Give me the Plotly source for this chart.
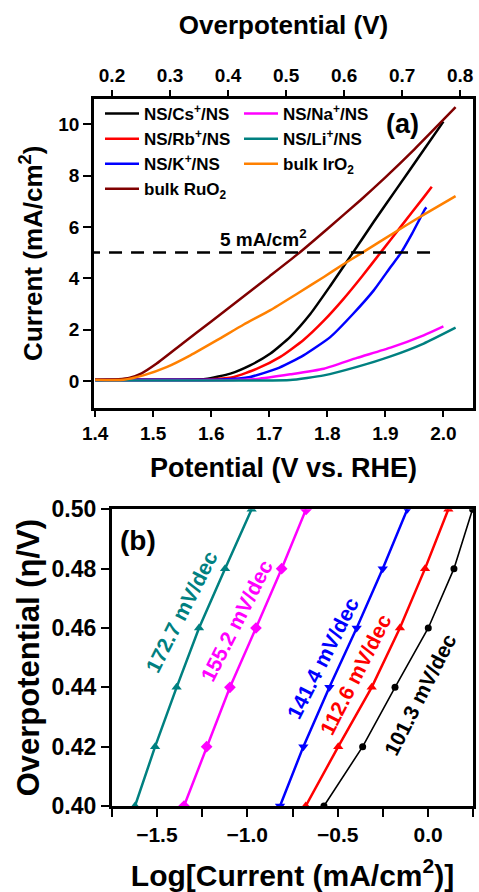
import plotly.graph_objects as go

# ---------------- Panel (a): LSV curves ----------------
cs_x = [1.40, 1.50, 1.59, 1.633, 1.667, 1.702, 1.736, 1.771, 1.805, 1.843, 1.880, 1.92, 1.96, 2.0]
cs_y = [0.05, 0.05, 0.08, 0.29, 0.61, 1.07, 1.72, 2.62, 3.70, 4.96, 6.20, 7.50, 8.80, 10.1]

rb_x = [1.40, 1.50, 1.60, 1.639, 1.679, 1.719, 1.759, 1.794, 1.828, 1.860, 1.891, 1.929, 1.966, 1.980]
rb_y = [0.05, 0.05, 0.07, 0.16, 0.48, 0.94, 1.60, 2.35, 3.20, 4.08, 4.98, 6.08, 7.15, 7.56]

k_x = [1.40, 1.50, 1.62, 1.667, 1.713, 1.759, 1.805, 1.845, 1.880, 1.909, 1.926, 1.946, 1.969, 1.971]
k_y = [0.05, 0.05, 0.06, 0.16, 0.48, 1.00, 1.71, 2.63, 3.53, 4.44, 4.96, 5.74, 6.72, 6.76]

ru_x = [1.40, 1.44, 1.46, 1.48, 1.506, 1.55, 1.60, 1.65, 1.70, 1.75, 1.80, 1.857, 1.90, 1.95, 2.021]
ru_y = [0.05, 0.07, 0.13, 0.30, 0.68, 1.45, 2.32, 3.19, 4.07, 4.96, 5.92, 7.04, 7.93, 9.02, 10.66]

na_x = [1.40, 1.55, 1.62, 1.679, 1.736, 1.794, 1.851, 1.909, 1.966, 2.000]
na_y = [0.02, 0.02, 0.03, 0.08, 0.26, 0.48, 0.90, 1.30, 1.78, 2.13]

li_x = [1.40, 1.60, 1.68, 1.736, 1.794, 1.851, 1.909, 1.966, 2.021]
li_y = [0.02, 0.02, 0.02, 0.04, 0.22, 0.55, 0.96, 1.46, 2.08]

ir_x = [1.40, 1.449, 1.483, 1.524, 1.564, 1.610, 1.656, 1.702, 1.748, 1.794, 1.825, 1.859, 1.929, 1.970, 2.021]
ir_y = [0.05, 0.05, 0.22, 0.55, 1.00, 1.59, 2.20, 2.76, 3.40, 4.05, 4.51, 4.98, 5.97, 6.53, 7.20]

ref_x = [1.386, 1.992]
ref_y = [5, 5]

# ---------------- Panel (b): Tafel plots ----------------
eta = [0.40, 0.42, 0.44, 0.46, 0.48, 0.50]
li_log = [-1.621, -1.510, -1.391, -1.267, -1.123, -0.976]
na_log = [-1.350, -1.225, -1.096, -0.952, -0.810, -0.675]
k_log = [-0.819, -0.690, -0.546, -0.395, -0.251, -0.115]
rb_log = [-0.677, -0.497, -0.312, -0.156, -0.017, 0.112]
cs_log = [-0.576, -0.362, -0.183, 0.001, 0.143, 0.246]

tafel_labels = ["172.7 mV/dec", "155.2 mV/dec", "141.4 mV/dec", "112.6 mV/dec", "101.3 mV/dec"]
tafel_lab_x = [-1.363, -1.059, -0.585, -0.400, -0.045]
tafel_lab_y = [0.4655, 0.4625, 0.4498, 0.4442, 0.4377]

BLACK = "#000000"; RED = "#FF0000"; BLUE = "#0000FF"; MAG = "#FF00FF"
TEAL = "#008080"; ORANGE = "#FF8000"; DRED = "#800000"

fig = go.Figure()

def lsv(x, y, name, color, legend):
    fig.add_trace(go.Scatter(x=x, y=y, mode="lines", name=name, legend=legend,
                             line=dict(color=color, width=2.5, shape="spline", smoothing=0.5),
                             xaxis="x", yaxis="y"))

lsv(cs_x, cs_y, "NS/Cs<sup>+</sup>/NS", BLACK, "legend")
lsv(rb_x, rb_y, "NS/Rb<sup>+</sup>/NS", RED, "legend")
lsv(k_x, k_y, "NS/K<sup>+</sup>/NS", BLUE, "legend")
lsv(ru_x, ru_y, "bulk RuO<sub>2</sub>", DRED, "legend")
lsv(na_x, na_y, "NS/Na<sup>+</sup>/NS", MAG, "legend2")
lsv(li_x, li_y, "NS/Li<sup>+</sup>/NS", TEAL, "legend2")
lsv(ir_x, ir_y, "bulk IrO<sub>2</sub>", ORANGE, "legend2")

fig.add_trace(go.Scatter(x=ref_x, y=ref_y, mode="lines", showlegend=False, cliponaxis=False,
                         line=dict(color="black", width=2.5, dash="13px,9px"), xaxis="x", yaxis="y"))
# anchor trace for the top (overpotential) axis
fig.add_trace(go.Scatter(x=[], y=[], mode="lines", showlegend=False, xaxis="x3", yaxis="y"))

def tafel(x, color, symbol, size, width):
    fig.add_trace(go.Scatter(x=x, y=eta, mode="lines+markers", showlegend=False,
                             line=dict(color=color, width=width),
                             marker=dict(color=color, symbol=symbol, size=size),
                             xaxis="x2", yaxis="y2"))

tafel(li_log, TEAL, "triangle-up", 9, 2.5)
tafel(na_log, MAG, "diamond", 9, 2.5)
tafel(k_log, BLUE, "triangle-down", 9, 2.5)
tafel(rb_log, RED, "triangle-up", 9, 2.5)
tafel(cs_log, BLACK, "circle", 7, 1.6)

W, H = 479, 892
FONT = "Liberation Sans, Arial, sans-serif"

ax_common = dict(showline=True, linewidth=2.5, linecolor="black", ticks="outside",
                 tickwidth=2, tickcolor="black", showgrid=False, zeroline=False,
                 automargin=False)

E0 = 1.229
xa_range = [1.398, 2.051]

fig.update_layout(
    width=W, height=H, margin=dict(l=0, r=0, t=0, b=0, autoexpand=False),
    paper_bgcolor="white", plot_bgcolor="white",
    font=dict(family=FONT, color="black", weight="bold"),
    xaxis=dict(**ax_common, domain=[94/W, 473/W], anchor="y", range=xa_range,
               dtick=0.1, tick0=1.4, tickformat=".1f", ticklen=6, mirror=False,
               tickfont=dict(size=19),
               title=dict(text="Potential (V vs. RHE)", font=dict(size=27), standoff=16)),
    yaxis=dict(**ax_common, domain=[1-408/H, 1-98.5/H], anchor="x", range=[-1.05, 11.0],
               dtick=2, ticklen=8, mirror=True, tickfont=dict(size=19),
               title=dict(text="Current (mA/cm<sup>2</sup>)", font=dict(size=26), standoff=9)),
    xaxis3=dict(**ax_common, overlaying="x", side="top", anchor="y",
                range=[xa_range[0]-E0, xa_range[1]-E0], dtick=0.1, tick0=0.2, tickformat=".1f",
                ticklen=6, tickfont=dict(size=19),
                title=dict(text="Overpotential (V)", font=dict(size=26), standoff=24)),
    xaxis2=dict(**ax_common, domain=[111.7/W, 473.3/W], anchor="y2", range=[-1.75, 0.25],
                dtick=0.5, tick0=0, tickformat=".1f", ticklen=8, mirror=True,
                minor=dict(dtick=0.25, ticks="outside", ticklen=8, tickwidth=2, tickcolor="black"),
                tickfont=dict(size=21),
                title=dict(text="Log[Current (mA/cm<sup>2</sup>)]", font=dict(size=30), standoff=25)),
    yaxis2=dict(**ax_common, domain=[1-806/H, 1-509.3/H], anchor="x2", range=[0.40, 0.50],
                dtick=0.02, tickformat=".2f", ticklen=8, mirror=True, tickfont=dict(size=23),
                title=dict(text="Overpotential (η/V)", font=dict(size=31), standoff=3)),
    legend=dict(x=100/W, y=1-96/H, xanchor="left", yanchor="top", bgcolor="rgba(0,0,0,0)",
                font=dict(size=17), tracegroupgap=0, itemwidth=34),
    legend2=dict(x=239/W, y=1-96/H, xanchor="left", yanchor="top", bgcolor="rgba(0,0,0,0)",
                 font=dict(size=17), tracegroupgap=0, itemwidth=34),
)

annotations = [
    dict(x=1.690, y=5.56, xref="x", yref="y", text="5 mA/cm<sup>2</sup>", showarrow=False,
         font=dict(size=19, color="black")),
    dict(x=402/W, y=1-124/H, xref="paper", yref="paper", text="(a)", showarrow=False,
         xanchor="center", yanchor="middle", font=dict(size=27, color="black")),
    dict(x=138/W, y=1-540/H, xref="paper", yref="paper", text="(b)", showarrow=False,
         xanchor="center", yanchor="middle", font=dict(size=28, color="black")),
]
tafel_colors = [TEAL, MAG, BLUE, RED, BLACK]
for t, x, y, c in zip(tafel_labels, tafel_lab_x, tafel_lab_y, tafel_colors):
    annotations.append(dict(x=x, y=y, xref="x2", yref="y2", text=t, showarrow=False,
                            textangle=-63, font=dict(size=21, color=c)))
fig.update_layout(annotations=annotations)

fig.write_html("out.html", config={"displayModeBar": False},
               post_script="document.body.style.margin='0';document.body.style.overflow='hidden';")
